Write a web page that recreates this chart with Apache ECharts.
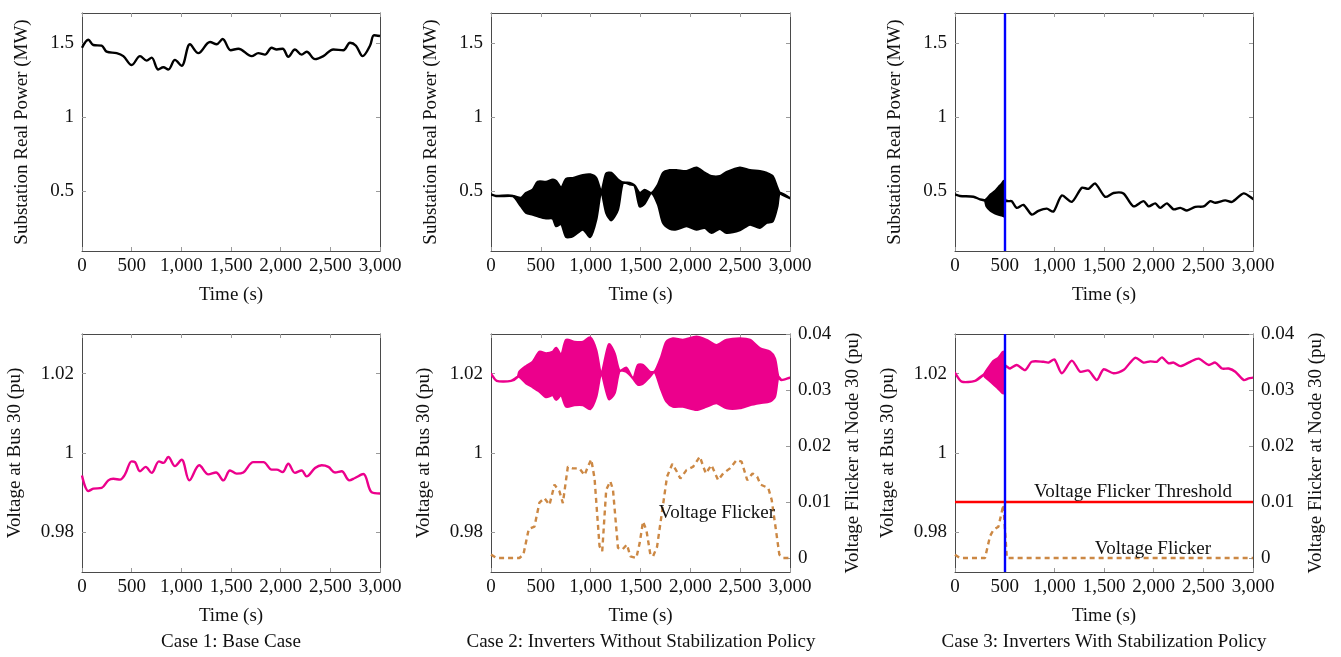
<!DOCTYPE html>
<html>
<head>
<meta charset="utf-8">
<script src="https://cdn.jsdelivr.net/npm/echarts@6/dist/echarts.min.js"></script>
<style>
html,body{margin:0;padding:0;background:#fff;}
#chart{width:1341px;height:657px;}
</style>
</head>
<body>
<div id="chart"></div>
<script>
// ---------------- DATA ----------------
const xTicks = [0, 500, 1000, 1500, 2000, 2500, 3000];
const powerTicks = [0.5, 1, 1.5];
const voltTicks = [0.98, 1, 1.02];
const flickerTicks = [0, 0.01, 0.02, 0.03, 0.04];

// Case 1 substation power
const case1PowerTime = [0,64,114,198,248,349,416,500,584,651,701,768,819,869,936,1003,1087,1171,1289,1356,1416,1497,1574,1708,1775,1842,1909,1960,2020,2077,2144,2211,2262,2346,2430,2530,2631,2698,2758,2825,2899,2940,3000];
const case1Power = [1.466,1.52,1.485,1.48,1.44,1.43,1.41,1.35,1.41,1.38,1.40,1.32,1.335,1.32,1.385,1.345,1.49,1.43,1.505,1.49,1.525,1.45,1.46,1.41,1.43,1.42,1.466,1.455,1.46,1.406,1.455,1.42,1.44,1.39,1.41,1.455,1.45,1.50,1.48,1.41,1.48,1.55,1.545];

// Case 2 substation power (oscillation envelope)
const case2PowerTime = [0,50,218,302,352,419,469,553,620,654,704,754,821,922,996,1056,1106,1156,1207,1274,1324,1391,1441,1492,1542,1609,1676,1726,1793,1860,1961,2061,2145,2212,2296,2363,2497,2598,2698,2765,2826,2873,2899,3000];
const case2PowerHigh = [0.48,0.47,0.47,0.457,0.49,0.513,0.565,0.565,0.58,0.57,0.525,0.585,0.59,0.61,0.614,0.59,0.50,0.62,0.625,0.58,0.56,0.558,0.54,0.49,0.51,0.49,0.547,0.625,0.643,0.643,0.637,0.66,0.625,0.603,0.603,0.63,0.66,0.643,0.637,0.625,0.603,0.525,0.49,0.455];
const case2PowerLow = [0.48,0.47,0.47,0.40,0.357,0.345,0.334,0.32,0.318,0.267,0.283,0.195,0.20,0.245,0.195,0.312,0.50,0.357,0.307,0.38,0.56,0.548,0.54,0.40,0.42,0.49,0.412,0.29,0.25,0.245,0.267,0.245,0.256,0.222,0.25,0.222,0.24,0.278,0.256,0.29,0.30,0.40,0.49,0.455];

// Case 3 substation power (oscillation envelope until policy at 500 s)
const case3PowerTime = [0,50,185,252,300,319,360,400,440,470,494,505,538,571,621,689,773,840,924,991,1075,1176,1277,1344,1411,1512,1596,1696,1797,1898,1949,2016,2066,2133,2200,2268,2335,2419,2503,2570,2620,2721,2788,2906,3000];
const case3PowerHigh = [0.48,0.47,0.465,0.447,0.44,0.45,0.48,0.50,0.53,0.55,0.57,0.44,0.435,0.435,0.39,0.41,0.345,0.37,0.385,0.365,0.473,0.43,0.525,0.518,0.554,0.464,0.49,0.487,0.40,0.435,0.40,0.42,0.39,0.42,0.38,0.39,0.372,0.397,0.40,0.435,0.424,0.44,0.43,0.487,0.45];
const case3PowerLow = [0.48,0.47,0.465,0.447,0.44,0.40,0.37,0.355,0.345,0.34,0.335,0.44,0.435,0.435,0.39,0.41,0.345,0.37,0.385,0.365,0.473,0.43,0.525,0.518,0.554,0.464,0.49,0.487,0.40,0.435,0.40,0.42,0.39,0.42,0.38,0.39,0.372,0.397,0.40,0.435,0.424,0.44,0.43,0.487,0.45];

// Case 1 voltage at bus 30
const case1VoltTime = [0,64,114,198,265,315,383,433,500,534,584,641,701,775,819,869,936,1003,1081,1181,1272,1349,1423,1490,1557,1624,1725,1826,1909,1960,2020,2077,2144,2211,2262,2346,2413,2480,2547,2614,2691,2748,2832,2916,3000];
const case1Volt = [0.9943,0.9904,0.991,0.9912,0.9931,0.9935,0.9933,0.9946,0.9979,0.9977,0.9954,0.9965,0.995,0.9979,0.9975,0.999,0.9967,0.9983,0.9931,0.9969,0.9946,0.9951,0.9931,0.9956,0.9948,0.9951,0.9977,0.9977,0.9958,0.9958,0.9952,0.9973,0.995,0.9956,0.9941,0.9962,0.9969,0.9965,0.9951,0.9954,0.9931,0.9937,0.9947,0.9901,0.9898];

// Case 2 voltage envelope
const case2VoltTime = [0,57,201,268,285,352,419,486,553,620,654,704,754,838,922,996,1056,1106,1183,1240,1290,1358,1425,1475,1525,1592,1642,1709,1759,1826,1926,2061,2162,2262,2363,2497,2598,2698,2799,2849,2883,2916,3000];
const case2VoltHigh = [1.02,1.0182,1.0182,1.0192,1.0205,1.0219,1.023,1.0255,1.0251,1.0255,1.0265,1.0247,1.0285,1.028,1.028,1.0291,1.0259,1.02,1.0274,1.0251,1.0207,1.0215,1.0188,1.0222,1.0222,1.0205,1.0205,1.0243,1.028,1.0289,1.0285,1.0293,1.0285,1.0272,1.0285,1.0289,1.0285,1.0264,1.0255,1.0238,1.0192,1.0184,1.019];
const case2VoltLow = [1.02,1.0182,1.0182,1.0192,1.0192,1.0176,1.0166,1.0155,1.0141,1.0146,1.0134,1.0146,1.0117,1.0121,1.0121,1.0111,1.0142,1.02,1.0136,1.0151,1.0207,1.0205,1.0188,1.0172,1.0175,1.0192,1.0205,1.0159,1.013,1.0117,1.0117,1.0109,1.0117,1.0126,1.0113,1.0113,1.0121,1.0126,1.013,1.0142,1.0192,1.0184,1.019];

// Case 2 voltage flicker at node 30
const case2FlickerTime = [0,57,285,325,379,436,486,536,587,637,687,721,771,821,888,939,972,1006,1039,1089,1116,1156,1197,1224,1274,1317,1364,1398,1458,1492,1525,1559,1599,1626,1666,1719,1766,1819,1853,1900,1961,2028,2095,2155,2212,2279,2330,2397,2464,2514,2571,2624,2671,2705,2782,2816,2859,2893,2933,3000];
const case2Flicker = [0.0006,0,0,0.0006,0.0052,0.0056,0.0099,0.0107,0.0095,0.0131,0.0119,0.0098,0.0163,0.016,0.016,0.0148,0.0163,0.0176,0.0142,0.0021,0.0012,0.0122,0.0137,0.0122,0.0018,0.0015,0.0024,0.0003,0,0.0027,0.0065,0.005,0.0006,0.0003,0.002,0.0086,0.0145,0.0168,0.0158,0.0142,0.0157,0.0163,0.0181,0.0151,0.0166,0.0139,0.0151,0.016,0.0175,0.0172,0.0139,0.0151,0.0145,0.0131,0.0125,0.0104,0.005,0.0006,0,0];

// Case 3 voltage envelope
const case3VoltTime = [0,67,202,286,302,386,437,487,505,521,554,621,705,773,890,941,1001,1075,1176,1260,1344,1428,1495,1596,1696,1814,1898,1965,2032,2083,2150,2200,2268,2368,2452,2553,2620,2688,2755,2822,2906,2956,3000];
const case3VoltHigh = [1.0202,1.018,1.0182,1.0197,1.0202,1.0232,1.024,1.0255,1.022,1.0218,1.0213,1.0222,1.0209,1.023,1.023,1.0228,1.0236,1.0201,1.0233,1.0205,1.0208,1.0184,1.0211,1.0201,1.0209,1.024,1.0228,1.0231,1.023,1.0241,1.0226,1.0228,1.0219,1.023,1.0238,1.0222,1.0228,1.0213,1.0213,1.0205,1.0184,1.0188,1.019];
const case3VoltLow = [1.0202,1.018,1.0182,1.0197,1.0192,1.0174,1.0162,1.0151,1.022,1.0218,1.0213,1.0222,1.0209,1.023,1.023,1.0228,1.0236,1.0201,1.0233,1.0205,1.0208,1.0184,1.0211,1.0201,1.0209,1.024,1.0228,1.0231,1.023,1.0241,1.0226,1.0228,1.0219,1.023,1.0238,1.0222,1.0228,1.0213,1.0213,1.0205,1.0184,1.0188,1.019];

// Case 3 voltage flicker
const case3FlickerTime = [0,50,302,353,386,437,487,500,522,3000];
const case3Flicker = [0.0006,0,0,0.0039,0.005,0.0056,0.0095,0.0093,0,0];

const flickerThreshold = 0.01;
const policyTime = 500;

const caseTitles = ['Case 1: Base Case', 'Case 2: Inverters Without Stabilization Policy', 'Case 3: Inverters With Stabilization Policy'];
const powerAxisName = 'Substation Real Power (MW)';
const voltAxisName = 'Voltage at Bus 30 (pu)';
const flickerAxisName = 'Voltage Flicker at Node 30 (pu)';
const timeAxisName = 'Time (s)';

// ---------------- CHART ----------------
const FONT = 'Liberation Serif';
const FS = 19;
const TXT = '#111111';
const AXIS = '#4a4a4a';
const TICK = '#9a9a9a';
const BLACK = '#000000';
const MAGENTA = '#ec008c';
const BROWN = '#cc8844';
const LW = 2.4;

const pairs = (t, v) => t.map((x, i) => [x, v[i]]);
const fmtX = v => String(v).replace(/\B(?=(\d{3})+(?!\d))/g, ',');
const fmtY = v => String(Math.round(v * 10000) / 10000);

const gridBoxes = [
  {left: 82, top: 13, width: 298, height: 238},
  {left: 491, top: 13, width: 299, height: 238},
  {left: 955, top: 13, width: 298, height: 238},
  {left: 82, top: 334, width: 298, height: 238},
  {left: 491, top: 334, width: 299, height: 238},
  {left: 955, top: 334, width: 298, height: 238}
];

const xAxis = [];
const yAxis = [];
gridBoxes.forEach((g, i) => {
  xAxis.push({
    type: 'value', gridIndex: i, min: 0, max: 3000, interval: 500, position: 'bottom',
    name: timeAxisName, nameLocation: 'middle', nameGap: 35,
    nameTextStyle: {fontFamily: FONT, fontSize: FS, color: TXT},
    axisLine: {show: true, onZero: false, lineStyle: {color: AXIS, width: 1}},
    axisTick: {show: true, inside: true, length: 4, lineStyle: {color: TICK}},
    axisLabel: {show: true, margin: 6, fontFamily: FONT, fontSize: FS, color: TXT, formatter: fmtX, hideOverlap: false},
    splitLine: {show: false}
  });
  xAxis.push({
    type: 'value', gridIndex: i, min: 0, max: 3000, interval: 500, position: 'top',
    axisLine: {show: true, onZero: false, lineStyle: {color: AXIS, width: 1}},
    axisTick: {show: true, inside: true, length: 4, lineStyle: {color: TICK}},
    axisLabel: {show: false}, splitLine: {show: false}
  });
  const top = i < 3;
  const lmin = top ? 0.1 : 0.97, lmax = top ? 1.7 : 1.03;
  const lticks = top ? powerTicks : voltTicks;
  yAxis.push({
    type: 'value', gridIndex: i, min: lmin, max: lmax, position: 'left',
    name: top ? powerAxisName : voltAxisName, nameLocation: 'middle', nameGap: top ? 50 : 57, nameRotate: 90,
    nameTextStyle: {fontFamily: FONT, fontSize: FS, color: TXT},
    axisLine: {show: true, onZero: false, lineStyle: {color: AXIS, width: 1}},
    axisTick: {show: true, inside: true, length: 4, lineStyle: {color: TICK}, customValues: lticks},
    axisLabel: {show: true, margin: 8, fontFamily: FONT, fontSize: FS, color: TXT, formatter: fmtY, customValues: lticks},
    splitLine: {show: false}
  });
  if (i === 4 || i === 5) {
    yAxis.push({
      type: 'value', gridIndex: i, min: -0.0025, max: 0.04, position: 'right',
      name: flickerAxisName, nameLocation: 'middle', nameGap: 54, nameRotate: 90,
      nameTextStyle: {fontFamily: FONT, fontSize: FS, color: TXT},
      axisLine: {show: true, onZero: false, lineStyle: {color: AXIS, width: 1}},
      axisTick: {show: true, inside: true, length: 4, lineStyle: {color: TICK}, customValues: flickerTicks},
      axisLabel: {show: true, margin: 8, fontFamily: FONT, fontSize: FS, color: TXT, formatter: fmtY, customValues: flickerTicks},
      splitLine: {show: false}
    });
  } else {
    yAxis.push({
      type: 'value', gridIndex: i, min: lmin, max: lmax, position: 'right',
      axisLine: {show: true, onZero: false, lineStyle: {color: AXIS, width: 1}},
      axisTick: {show: true, inside: true, length: 4, lineStyle: {color: TICK}, customValues: lticks},
      axisLabel: {show: false}, splitLine: {show: false}
    });
  }
});

const plain = (grid, data, color) => ({
  type: 'line', xAxisIndex: grid * 2, yAxisIndex: grid * 2, data: data,
  showSymbol: false, symbol: 'none', smooth: 0.35,
  lineStyle: {color: color, width: LW}, itemStyle: {color: color}, z: 3
});

// Oscillation envelope drawn as a filled band between the read upper/lower envelopes
const band = (grid, t, hi, lo, color) => ({
  type: 'custom', xAxisIndex: grid * 2, yAxisIndex: grid * 2,
  data: [[t[0], lo[0]]], clip: true, z: 3, silent: true,
  renderItem: function (params, api) {
    const up = t.map((x, i) => api.coord([x, hi[i]]));
    const dn = t.map((x, i) => api.coord([x, lo[i]])).reverse();
    return {
      type: 'group',
      children: [
        {type: 'polygon', shape: {points: up.concat(dn), smooth: 0.25},
         style: {fill: color, stroke: color, lineWidth: LW, lineJoin: 'round'}}
      ]
    };
  }
});

const blueLine = {
  silent: true, symbol: ['none', 'none'], label: {show: false},
  lineStyle: {color: '#0000ff', width: 2.4, type: 'solid'},
  data: [{xAxis: policyTime}]
};

const series = [];
series.push(plain(0, pairs(case1PowerTime, case1Power), BLACK));
series.push(band(1, case2PowerTime, case2PowerHigh, case2PowerLow, BLACK));
series.push(band(2, case3PowerTime, case3PowerHigh, case3PowerLow, BLACK));
series.push({type: 'line', xAxisIndex: 4, yAxisIndex: 4, data: [], z: 5, markLine: blueLine});
series.push(plain(3, pairs(case1VoltTime, case1Volt), MAGENTA));
series.push(band(4, case2VoltTime, case2VoltHigh, case2VoltLow, MAGENTA));
series.push({
  type: 'line', xAxisIndex: 8, yAxisIndex: 9, data: pairs(case2FlickerTime, case2Flicker),
  showSymbol: false, symbol: 'none', smooth: false,
  lineStyle: {color: BROWN, width: LW, type: [5, 4]}, z: 4
});
series.push(band(5, case3VoltTime, case3VoltHigh, case3VoltLow, MAGENTA));
series.push({
  type: 'line', xAxisIndex: 10, yAxisIndex: 11, data: pairs(case3FlickerTime, case3Flicker),
  showSymbol: false, symbol: 'none', smooth: false,
  lineStyle: {color: BROWN, width: LW, type: [5, 4]}, z: 4,
  markLine: {
    silent: true, symbol: ['none', 'none'], label: {show: false},
    lineStyle: {color: '#ff0000', width: 2.4, type: 'solid'},
    data: [{yAxis: flickerThreshold}]
  }
});
series.push({type: 'line', xAxisIndex: 10, yAxisIndex: 10, data: [], z: 5, markLine: blueLine});

const textEl = (x, y, s) => ({
  type: 'text', x: x, y: y, z: 10,
  style: {text: s, fontFamily: FONT, fontSize: FS, fill: TXT, align: 'center', verticalAlign: 'middle'}
});

const chart = echarts.init(document.getElementById('chart'), null, {renderer: 'canvas'});
chart.setOption({
  animation: false,
  backgroundColor: '#ffffff',
  grid: gridBoxes.map(g => Object.assign({containLabel: false}, g)),
  xAxis: xAxis,
  yAxis: yAxis,
  series: series,
  graphic: [
    textEl(231, 642, caseTitles[0]),
    textEl(641, 642, caseTitles[1]),
    textEl(1104, 642, caseTitles[2]),
    textEl(717, 513, 'Voltage Flicker'),
    textEl(1133, 492, 'Voltage Flicker Threshold'),
    textEl(1153, 549, 'Voltage Flicker')
  ]
});
</script>
</body>
</html>
